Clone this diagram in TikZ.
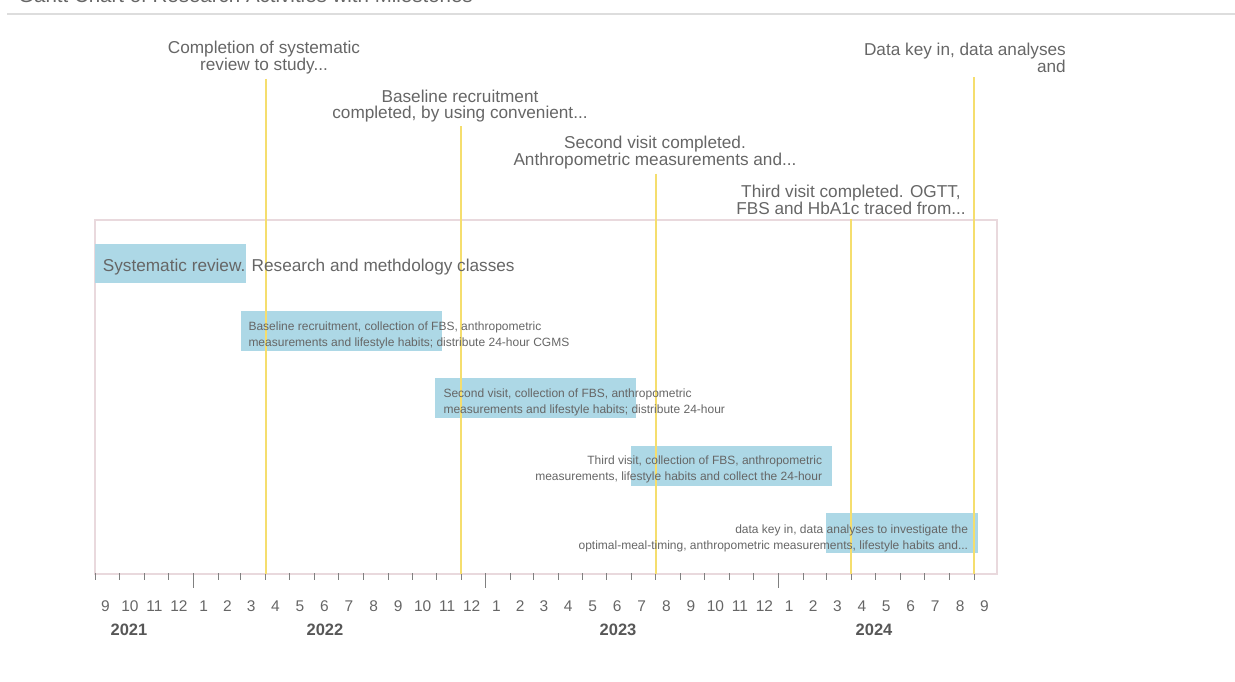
\documentclass[tikz,border=0pt]{standalone}
\usepackage{fontspec}
\setmainfont{Liberation Sans}
\usepackage{tikz}
\definecolor{barblue}{HTML}{ADD8E6}
\definecolor{mileyellow}{HTML}{F5DE6E}
\definecolor{framepink}{HTML}{E9D9DD}
\definecolor{labelgrey}{HTML}{666666}
\definecolor{tickgrey}{HTML}{808080}
\definecolor{rulegrey}{HTML}{DDDDDD}
\tikzset{
  milelabel/.style={text=labelgrey, align=center, inner sep=0pt, font=\fontsize{17.2}{16}\selectfont},
  mileline/.style={mileyellow, line width=1.7pt},
  barlabel/.style={text=labelgrey, inner sep=0pt, font=\fontsize{12}{16}\selectfont},
  monthlabel/.style={text=labelgrey, inner sep=0pt, font=\fontsize{15.5}{16}\selectfont},
  yearlabel/.style={text=labelgrey!85!black, inner sep=0pt, font=\fontsize{16.5}{16}\selectfont\bfseries}
}

\begin{document}
\begin{tikzpicture}[x=1pt,y=-1pt]
\useasboundingbox (0,0) rectangle (1235,682);
\node[anchor=base west, text=labelgrey, inner sep=0pt, font=\fontsize{20.5}{20}\selectfont] (title) at (18,3) {Gantt Chart of Research Activities with Milestones};
\draw[rulegrey, line width=1.5pt] (7,14) -- (1235,14);

\draw[framepink, line width=1.2pt] (95,574) -- (95,220) -- (997,220) -- (997,574) -- cycle;
\foreach \d in {0,30,61,91,153,181,212,242,273,303,334,365,395,426,456,518,546,577,607,638,668,699,730,760,791,821,883,912,943,973,1004,1034,1065,1096}
  \draw[tickgrey] ({95+0.802*\d},573) -- ++(0,7);
\foreach \d in {122,487,852}
  \draw[tickgrey] ({95+0.802*\d},573) -- ++(0,15);
\foreach \m/\d [count=\i] in {9/15,10/45.5,11/76,12/106.5,1/137.5,2/167,3/196.5,4/227,5/257.5,6/288,7/318.5,8/349.5,9/380,10/410.5,11/441,12/471.5,1/502.5,2/532,3/561.5,4/592,5/622.5,6/653,7/683.5,8/714.5,9/745,10/775.5,11/806,12/836.5,1/867.5,2/897.5,3/927.5,4/958,5/988.5,6/1019,7/1049.5,8/1080.5,9/1111}
  \node[monthlabel] (mon\i) at ({93.5+0.802*\d},606) {\m};
\node[yearlabel] (y2021) at (129,630) {2021};
\node[yearlabel] (y2022) at (325,630) {2022};
\node[yearlabel] (y2023) at (618,630) {2023};
\node[yearlabel] (y2024) at (874,630) {2024};

\fill[barblue] (95,244) rectangle (245.7,283.3);
\fill[barblue] (241,311) rectangle (441.7,350.7);
\fill[barblue] (435,378.3) rectangle (636,418.3);
\fill[barblue] (630.7,446) rectangle (831.7,486);
\fill[barblue] (826,513.3) rectangle (978.3,552.7);

\coordinate (t1) at (265.7,574);
\coordinate (t2) at (460.7,574);
\coordinate (t3) at (656,574);
\coordinate (t4) at (851.3,574);
\coordinate (t5) at (974,574);
\node[milelabel] (m1) at (264,58) {Completion of systematic\\review to study...};
\node[milelabel] (m2) at (460,106) {Baseline recruitment\\completed, by using convenient...};
\node[milelabel] (m3) at (655,153) {Second visit completed.\\Anthropometric measurements and...};
\node[milelabel] (m4) at (851,200) {Third visit completed. OGTT,\\FBS and HbA1c traced from...};
\node[milelabel, align=right, anchor=east] (m5) at (1066,58) {Data key in, data analyses\\and};
\draw[mileline] ([yshift=-4pt]m1.south -| t1) -- (t1);
\draw[mileline] ([yshift=-4pt]m2.south -| t2) -- (t2);
\draw[mileline] ([yshift=-4pt]m3.south -| t3) -- (t3);
\draw[mileline] ([yshift=-4pt]m4.south -| t4) -- (t4);
\draw[mileline] ([yshift=-4pt]m5.south -| t5) -- (t5);

\node[barlabel, anchor=west, font=\fontsize{17.2}{16}\selectfont] (b1) at (102.7,267.5) {Systematic review. Research and methdology classes};
\node[barlabel, align=left, anchor=west] (b2) at (248.3,335) {Baseline recruitment, collection of FBS, anthropometric\\measurements and lifestyle habits; distribute 24-hour CGMS};
\node[barlabel, align=left, anchor=west] (b3) at (443.3,402.5) {Second visit, collection of FBS, anthropometric\\measurements and lifestyle habits; distribute 24-hour};
\node[barlabel, align=right, anchor=east] (b4) at (822.3,469.5) {Third visit, collection of FBS, anthropometric\\measurements, lifestyle habits and collect the 24-hour};
\node[barlabel, align=right, anchor=east] (b5) at (968.3,538) {data key in, data analyses to investigate the\\optimal-meal-timing, anthropometric measurements, lifestyle habits and...};
\end{tikzpicture}
\end{document}
